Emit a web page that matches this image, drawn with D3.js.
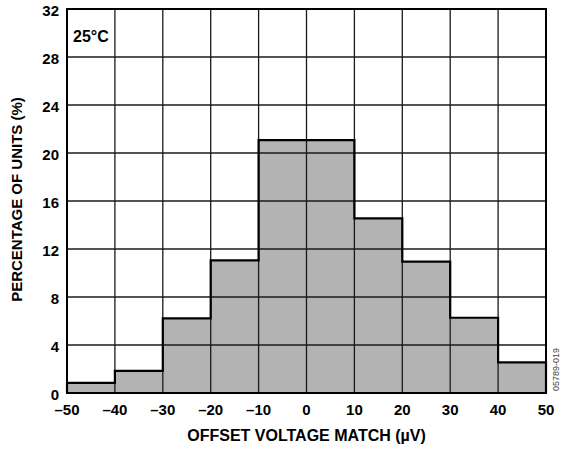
<!DOCTYPE html>
<html>
<head>
<meta charset="utf-8">
<script src="https://cdn.jsdelivr.net/npm/d3@7"></script>
<style>
  body { margin: 0; background: #fff; }
  text { font-family: "Liberation Sans", Arial, sans-serif; font-weight: bold; }
</style>
</head>
<body>
<div id="chart"></div>
<script>
// histogram bins (µV) and percentage of units
const binStarts = [-50, -40, -30, -20, -10, 0, 10, 20, 30, 40];
const binWidth = 10;
const percents = [0.85, 1.85, 6.22, 11.05, 21.08, 21.08, 14.56, 10.94, 6.27, 2.56];
const xTicks = [-50, -40, -30, -20, -10, 0, 10, 20, 30, 40, 50];
const yTicks = [0, 4, 8, 12, 16, 20, 24, 28, 32];

const width = 561, height = 449;
const margin = { top: 9, right: 15, bottom: 56, left: 67 };

const svg = d3.select("#chart").append("svg")
    .attr("width", width)
    .attr("height", height);

const x = d3.scaleLinear().domain([-50, 50]).range([margin.left, width - margin.right]);
const y = d3.scaleLinear().domain([0, 32]).range([height - margin.bottom, margin.top]);

const minus = v => String(v).replace("-", "\u2013");

// bars
svg.append("g").selectAll("rect")
    .data(binStarts)
    .join("rect")
    .attr("x", (d) => x(d))
    .attr("y", (d, i) => y(percents[i]))
    .attr("width", (d) => x(d + binWidth) - x(d))
    .attr("height", (d, i) => y(0) - y(percents[i]))
    .attr("fill", "#b3b3b3");

// grid
const grid = svg.append("g").attr("stroke", "#1a1a1a").attr("stroke-width", 1.3);
grid.selectAll("line.v")
    .data(xTicks)
    .join("line")
    .attr("class", "v")
    .attr("x1", d => x(d)).attr("x2", d => x(d))
    .attr("y1", y(0)).attr("y2", y(32));
grid.selectAll("line.h")
    .data(yTicks)
    .join("line")
    .attr("class", "h")
    .attr("x1", x(-50)).attr("x2", x(50))
    .attr("y1", d => y(d)).attr("y2", d => y(d));

// histogram outline (step)
const steps = [];
binStarts.forEach((d, i) => {
    steps.push([d, percents[i]]);
    steps.push([d + binWidth, percents[i]]);
});
const outline = [[-50, 0]].concat(steps).concat([[50, 0]]);
svg.append("path")
    .attr("d", d3.line().x(d => x(d[0])).y(d => y(d[1]))(outline))
    .attr("fill", "none")
    .attr("stroke", "#000")
    .attr("stroke-width", 2.2);

// frame
svg.append("rect")
    .attr("x", x(-50)).attr("y", y(32))
    .attr("width", x(50) - x(-50)).attr("height", y(0) - y(32))
    .attr("fill", "none")
    .attr("stroke", "#000")
    .attr("stroke-width", 2);

// tick labels
svg.append("g").selectAll("text")
    .data(xTicks)
    .join("text")
    .attr("x", d => x(d))
    .attr("y", y(0) + 22)
    .attr("text-anchor", "middle")
    .style("font-size", "15px")
    .text(d => minus(d));

svg.append("g").selectAll("text")
    .data(yTicks)
    .join("text")
    .attr("x", x(-50) - 8)
    .attr("y", d => y(d) + 6.5)
    .attr("text-anchor", "end")
    .style("font-size", "15px")
    .text(d => d);

// axis titles
svg.append("text")
    .attr("x", (x(-50) + x(50)) / 2)
    .attr("y", 441)
    .attr("text-anchor", "middle")
    .style("font-size", "16px")
    .text("OFFSET VOLTAGE MATCH (\u00b5V)");

svg.append("text")
    .attr("transform", `translate(21.5, 199.5) rotate(-90)`)
    .attr("text-anchor", "middle")
    .style("font-size", "15px")
    .text("PERCENTAGE OF UNITS (%)");

svg.append("text")
    .attr("x", x(-50) + 6)
    .attr("y", y(32) + 32.5)
    .style("font-size", "16px")
    .text("25\u00b0C");

svg.append("text")
    .attr("transform", `translate(558.5, 391) rotate(-90)`)
    .attr("text-anchor", "start")
    .style("font-size", "9px")
    .style("font-weight", "normal")
    .attr("fill", "#444")
    .text("05789-019");
</script>
</body>
</html>
